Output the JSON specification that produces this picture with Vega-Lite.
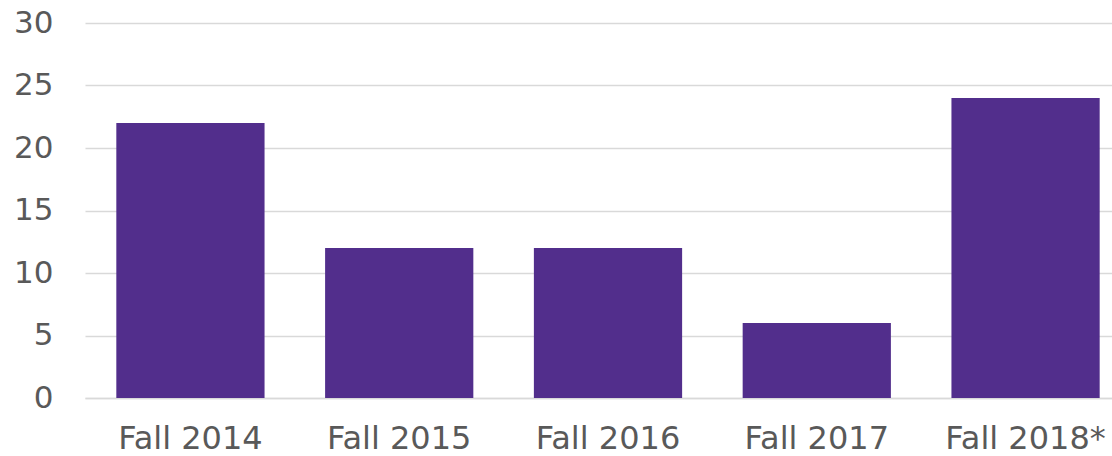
{
  "$schema": "https://vega.github.io/schema/vega-lite/v6.json",
  "width": 1112,
  "height": 456,
  "autosize": {"type": "fit", "contains": "padding"},
  "padding": {"left": 13, "right": -19, "top": 7, "bottom": 2},
  "background": "white",
  "config": {"view": {"stroke": null}, "font": "DejaVu Sans"},
  "data": {"values": [
    {"term": "Fall 2014", "value": 22},
    {"term": "Fall 2015", "value": 12},
    {"term": "Fall 2016", "value": 12},
    {"term": "Fall 2017", "value": 6},
    {"term": "Fall 2018*", "value": 24}
  ]},
  "mark": {"type": "bar", "color": "#522E8C"},
  "encoding": {
    "x": {
      "field": "term", "type": "nominal", "sort": null,
      "scale": {"paddingInner": 0.29, "paddingOuter": 0.15},
      "axis": {"title": null, "labelAngle": 0, "labelFontSize": 32, "labelColor": "#595959", "labelFont": "DejaVu Sans", "ticks": false, "domainColor": "#d9d9d9", "domainWidth": 1.5, "labelPadding": 25}
    },
    "y": {
      "field": "value", "type": "quantitative",
      "scale": {"domain": [0, 30]},
      "axis": {"title": null, "values": [0, 5, 10, 15, 20, 25, 30], "labelFontSize": 31, "labelColor": "#595959", "labelFont": "DejaVu Sans", "ticks": false, "domain": false, "gridColor": "#d9d9d9", "gridWidth": 1.5, "labelPadding": 32}
    }
  }
}
